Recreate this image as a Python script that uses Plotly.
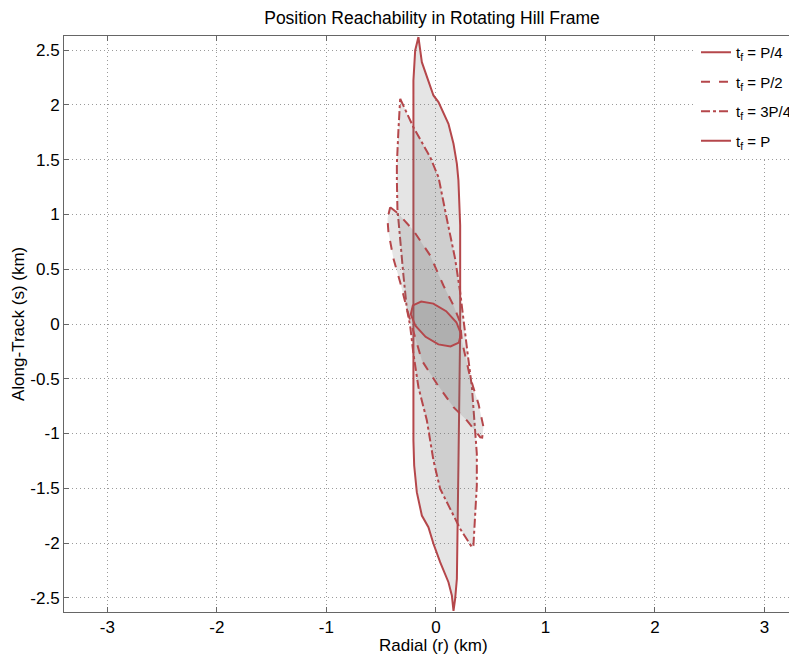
import plotly.graph_objects as go

# ---- data (km) ----
names = ["t<sub>f</sub> = P/4", "t<sub>f</sub> = P/2", "t<sub>f</sub> = 3P/4", "t<sub>f</sub> = P"]
dashes = ["solid", "dash", "dashdot", "solid"]

p4_r = [0.210, 0.229, 0.187, 0.094, -0.023, -0.134, -0.210, -0.229, -0.187, -0.094, 0.023, 0.134, 0.210]
p4_s = [-0.170, -0.089, 0.016, 0.117, 0.186, 0.205, 0.170, 0.089, -0.016, -0.117, -0.186, -0.205, -0.170]

p2_r = [-0.417, -0.342, -0.205, -0.052, 0.069, 0.161, 0.222, 0.237, 0.313, 0.389, 0.435, 0.423,
        0.405, 0.283, 0.161, 0.009, -0.128, -0.205, -0.265, -0.326, -0.387, -0.433, -0.442, -0.417]
p2_s = [1.067, 1.006, 0.854, 0.626, 0.352, 0.169, 0.016, -0.151, -0.486, -0.729, -0.942, -1.037,
        -1.034, -0.881, -0.760, -0.546, -0.333, -0.059, 0.139, 0.382, 0.595, 0.838, 0.961, 1.067]

p34_r = [-0.326, -0.205, -0.052, 0.024, 0.100, 0.176, 0.222, 0.252, 0.283, 0.329, 0.359, 0.374, 0.374,
         0.359, 0.343, 0.329, 0.222, 0.131, 0.039, -0.022, -0.082, -0.159, -0.205, -0.235, -0.265,
         -0.296, -0.326, -0.351, -0.356, -0.356, -0.342, -0.326]
p34_s = [2.057, 1.797, 1.523, 1.341, 0.961, 0.595, 0.290, 0.016, -0.212, -0.577, -0.942, -1.185, -1.475,
         -1.749, -2.023, -2.038, -1.870, -1.688, -1.505, -1.247, -0.881, -0.577, -0.272, -0.014, 0.139,
         0.443, 0.747, 1.052, 1.311, 1.463, 1.767, 2.057]

p1_r = [-0.159, -0.128, -0.022, 0.024, 0.115, 0.161, 0.192, 0.206, 0.222, 0.222, 0.206, 0.201, 0.192,
        0.176, 0.161, 0.146, 0.115, 0.039, -0.022, -0.068, -0.128, -0.174, -0.198, -0.205, -0.205,
        -0.189, -0.159]
p1_s = [2.620, 2.391, 2.087, 2.026, 1.828, 1.646, 1.463, 1.311, 0.900, -0.059, -1.292, -1.901, -2.327,
        -2.510, -2.620, -2.479, -2.358, -2.175, -2.007, -1.856, -1.749, -1.536, -1.292, -1.064, 2.224,
        2.498, 2.620]

x_ticks = [-3, -2, -1, 0, 1, 2, 3]
y_ticks = [-2.5, -2, -1.5, -1, -0.5, 0, 0.5, 1, 1.5, 2, 2.5]

RED = "#b5474b"
FILL = "rgba(110,110,110,0.18)"
FONT = "Liberation Sans, Arial, Helvetica, sans-serif"
GRID = "#9a9a9a"

# page body has an 8px margin, so the figure is 789x650 starting at (8, 8)
W, H = 789, 650

fig = go.Figure()
shapes_data = [(p1_r, p1_s, 3), (p34_r, p34_s, 2), (p2_r, p2_s, 1), (p4_r, p4_s, 0)]
for xs, ys, i in shapes_data:
    fig.add_trace(go.Scatter(x=xs, y=ys, mode="lines", fill="toself", fillcolor=FILL,
                             line=dict(color=RED, width=2, dash=dashes[i]),
                             showlegend=False, hoverinfo="skip"))
for i in range(4):
    fig.add_trace(go.Scatter(x=[None], y=[None], mode="lines", name=names[i],
                             legendgroup=f"g{i}",
                             line=dict(color=RED, width=2, dash=dashes[i])))

fig.update_layout(
    width=W, height=H,
    margin=dict(l=56, r=0, t=28, b=46, autoexpand=False),
    paper_bgcolor="white", plot_bgcolor="white",
    font=dict(family=FONT, size=16, color="black"),
    title=dict(text="Position Reachability in Rotating Hill Frame", x=424 / W, xanchor="center",
               y=1 - 9.5 / H, yanchor="middle", font=dict(size=17.5, family=FONT, color="black")),
    legend=dict(x=1, xanchor="right", y=1.0, yanchor="top", bgcolor="white",
                font=dict(size=15, family=FONT), tracegroupgap=7, itemwidth=30),
    xaxis=dict(range=[-3.396, 3.298], tickvals=x_ticks, ticktext=[str(v) for v in x_ticks],
               showgrid=True, gridcolor=GRID, griddash="1px,3px", gridwidth=1,
               zeroline=False, showline=True, linecolor="#666", linewidth=1, mirror="ticks",
               ticks="inside", ticklen=5, tickcolor="#666", automargin=False,
               tickfont=dict(size=17)),
    yaxis=dict(range=[-2.63, 2.63], tickvals=y_ticks, ticktext=[f"{v:g}" for v in y_ticks],
               showgrid=True, gridcolor=GRID, griddash="1px,3px", gridwidth=1,
               zeroline=False, showline=True, linecolor="#666", linewidth=1,
               ticks="inside", ticklen=5, tickcolor="#666", automargin=False,
               tickfont=dict(size=17)),
    annotations=[
        dict(text="Radial (r) (km)", xref="paper", yref="paper",
             x=(425 - 56) / (W - 56), y=-(637 - 604) / 576, xanchor="center", yanchor="middle",
             showarrow=False, font=dict(size=17)),
        dict(text="Along-Track (s) (km)", xref="paper", yref="paper", textangle=-90,
             x=-(56 - 10) / (W - 56), y=0.5, xanchor="center", yanchor="middle",
             showarrow=False, font=dict(size=17)),
    ],
)
fig.write_html("out.html")
